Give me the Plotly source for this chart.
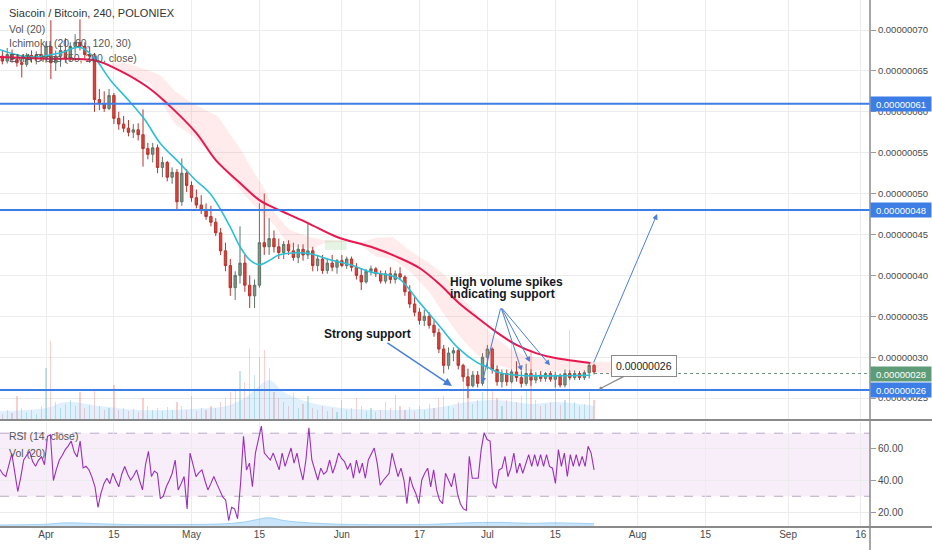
import pandas as pd
import plotly.graph_objects as go

SAT = 1e-8  # prices below are written in satoshi (1e-8 BTC)

# ---------------- daily candles ----------------
dates = pd.date_range("2019-03-22", "2019-07-23", freq="D")

open_sat = [66.5, 66.8, 66.2, 67.0, 66.4, 66.0, 65.8, 66.9, 66.5, 67.0,
            66.6, 68.0, 66.0, 66.8, 67.5, 66.5, 68.0, 68.5, 68.0, 67.0,
            66.8, 61.5, 61.0, 60.4, 62.0, 59.2, 58.5, 58.0, 57.5, 57.8,
            57.2, 55.5, 54.8, 55.6, 53.2, 53.8, 52.0, 52.6, 49.0, 52.5,
            51.0, 49.5, 48.6, 48.0, 47.2, 46.5, 45.2, 43.0, 41.2, 38.5,
            40.0, 41.5, 38.8, 37.5, 38.8, 44.0, 43.5, 44.5, 43.5, 42.8,
            43.8, 43.0, 42.2, 43.2, 42.5, 43.0, 41.2, 42.0, 40.6, 41.5, 41.0,
            41.8, 41.2, 42.0, 41.0, 40.0, 39.2, 40.5, 40.8, 40.2, 39.3,
            40.2, 39.5, 40.2, 39.8, 38.0, 36.5, 35.5, 34.5, 35.0, 33.9,
            33.0, 31.0, 29.0, 30.5, 30.8, 29.0, 27.6, 26.5, 27.8, 26.8,
            30.0, 31.0, 28.5, 27.0, 28.0, 27.0, 28.2, 27.5, 26.8, 28.0,
            27.2, 27.8, 27.4, 28.0, 27.3, 27.8, 26.6, 28.0, 27.5, 28.0,
            27.5, 28.1, 29.0]
high_sat = [67.5, 67.5, 67.8, 67.6, 67.0, 66.8, 67.2, 67.5, 67.4, 68.0,
            68.5, 71.2, 67.5, 68.2, 69.0, 68.5, 69.5, 71.3, 68.5, 68.0,
            67.2, 62.8, 62.5, 62.8, 62.3, 60.0, 59.5, 59.0, 58.5, 58.6,
            60.3, 56.2, 56.2, 56.0, 54.5, 54.0, 53.2, 53.0, 54.3, 53.0,
            51.5, 50.5, 49.8, 48.8, 48.5, 47.0, 45.8, 44.0, 42.0, 40.5,
            46.0, 42.5, 40.0, 39.5, 48.8, 50.0, 47.0, 45.5, 44.5, 44.2,
            44.3, 44.0, 43.8, 43.8, 46.4, 43.5, 42.5, 42.5, 42.0, 42.5, 42.0,
            42.5, 42.3, 42.3, 41.5, 40.8, 40.8, 41.2, 41.0, 40.6, 40.6,
            41.0, 40.6, 41.0, 40.0, 38.8, 37.5, 36.0, 35.8, 35.5, 34.5,
            33.5, 31.5, 31.2, 31.2, 31.0, 29.2, 28.6, 28.3, 28.3, 30.5,
            31.5, 31.2, 29.0, 28.5, 28.5, 28.5, 29.5, 28.3, 29.2, 28.5,
            28.2, 28.3, 28.2, 28.3, 28.2, 28.0, 28.5, 28.4, 28.4, 28.3,
            28.4, 29.3, 29.2]
low_sat = [65.5, 65.8, 65.9, 66.0, 65.5, 64.2, 65.5, 66.0, 65.8, 66.2,
           66.0, 64.0, 65.0, 65.5, 66.0, 66.2, 67.0, 67.5, 66.5, 66.0,
           60.0, 60.2, 60.0, 60.2, 58.5, 57.8, 57.5, 57.0, 56.8, 56.5,
           53.3, 54.2, 53.8, 52.5, 52.0, 51.5, 51.2, 48.0, 48.5, 50.2,
           49.0, 48.2, 47.5, 46.8, 46.0, 44.8, 42.5, 40.5, 37.5, 37.0,
           39.0, 38.0, 36.0, 36.0, 38.5, 42.5, 42.5, 42.8, 42.0, 42.0,
           42.5, 41.8, 41.5, 41.8, 42.0, 40.5, 40.5, 40.2, 40.2, 40.5, 40.2,
           41.0, 40.8, 40.5, 39.5, 38.2, 39.0, 40.0, 39.8, 39.0, 39.0,
           39.0, 39.0, 39.5, 37.5, 36.0, 35.0, 34.0, 33.8, 33.5, 32.5,
           30.5, 28.0, 28.5, 29.5, 28.5, 27.0, 25.0, 26.3, 26.3, 26.5,
           28.5, 28.0, 26.5, 26.3, 26.5, 26.8, 27.0, 26.3, 26.5, 26.5,
           26.8, 27.0, 27.0, 27.0, 26.3, 26.3, 26.3, 27.2, 27.2, 27.2,
           27.2, 27.4, 27.9]
close_sat = [66.8, 66.2, 67.0, 66.4, 66.0, 65.8, 66.9, 66.5, 67.0, 66.6,
             68.0, 66.0, 66.8, 67.5, 66.5, 68.0, 68.5, 68.0, 67.0, 66.8,
             61.5, 61.0, 60.4, 62.0, 59.2, 58.5, 58.0, 57.5, 57.8, 57.2,
             55.5, 54.8, 55.6, 53.2, 53.8, 52.0, 52.6, 49.0, 52.5, 51.0,
             49.5, 48.6, 48.0, 47.2, 46.5, 45.2, 43.0, 41.2, 38.5, 40.0,
             41.5, 38.8, 37.5, 38.8, 44.0, 43.5, 44.5, 43.5, 42.8, 43.8,
             43.0, 42.2, 43.2, 42.5, 43.0, 41.2, 42.0, 40.6, 41.5, 41.0, 41.8,
             41.2, 42.0, 41.0, 40.0, 39.2, 40.5, 40.8, 40.2, 39.3, 40.2,
             39.5, 40.2, 39.8, 38.0, 36.5, 35.5, 34.5, 35.0, 33.9, 33.0,
             31.0, 29.0, 30.5, 30.8, 29.0, 27.6, 26.5, 27.8, 26.8, 30.0,
             31.0, 28.5, 27.0, 28.0, 27.0, 28.2, 27.5, 26.8, 28.0, 27.2,
             27.8, 27.4, 28.0, 27.3, 27.8, 26.6, 28.0, 27.5, 28.0, 27.5,
             28.1, 29.0, 28.2]

# daily volume (arbitrary units)
volume = [8, 6, 10, 7, 24, 12, 8, 10, 6, 14,
          52, 79, 18, 12, 16, 20, 14, 28, 12, 15,
          30, 14, 10, 12, 35, 10, 12, 9, 11, 8,
          22, 14, 10, 12, 9, 13, 10, 18, 14, 10,
          24, 9, 12, 10, 14, 12, 18, 22, 28, 30,
          49, 38, 71, 45, 63, 70, 52, 28, 22, 18,
          14, 27, 12, 16, 24, 12, 10, 14, 9, 12, 8,
          20, 10, 12, 22, 14, 9, 12, 8, 10, 18,
          12, 25, 14, 10, 13, 9, 14, 10, 16, 12,
          22, 24, 14, 12, 18, 45, 30, 16, 20, 28,
          75, 30, 22, 14, 20, 77, 18, 24, 30, 70,
          20, 14, 16, 18, 40, 15, 20, 90, 18, 14,
          16, 28, 20]

vol_ma_dates = ["2019-03-22", "2019-04-01", "2019-04-05", "2019-04-12", "2019-04-20",
                "2019-05-01", "2019-05-08", "2019-05-12", "2019-05-14", "2019-05-17",
                "2019-05-20", "2019-05-25", "2019-06-01", "2019-06-10", "2019-06-20",
                "2019-06-27", "2019-07-03", "2019-07-10", "2019-07-15", "2019-07-23"]
vol_ma = [9, 12, 18, 14, 10, 11, 14, 22, 30, 40, 28, 18, 12, 10, 12, 18, 20, 16, 18, 14]

# ---------------- EMA cross lines ----------------
ema200_dates = ["2019-03-22 12:00", "2019-04-01", "2019-04-11", "2019-04-16", "2019-04-22",
                "2019-04-26", "2019-05-02", "2019-05-06", "2019-05-11", "2019-05-15",
                "2019-05-19", "2019-05-25", "2019-05-31", "2019-06-07", "2019-06-13",
                "2019-06-17", "2019-06-21", "2019-06-25", "2019-06-29", "2019-07-03",
                "2019-07-07", "2019-07-11", "2019-07-15", "2019-07-22 06:00"]
ema200_sat = [66.7, 66.5, 66.3, 65.1, 63.0, 61.0, 57.4, 54.1, 51.3, 49.2,
              48.0, 46.4, 44.7, 43.5, 42.1, 40.9, 39.0, 36.7, 34.8, 33.0,
              31.5, 30.5, 29.9, 29.3]

ema50_dates = ["2019-03-22 12:00", "2019-03-28 16:00", "2019-04-03 22:00", "2019-04-08",
               "2019-04-11", "2019-04-14 06:00", "2019-04-18 08:00", "2019-04-21 10:00",
               "2019-04-24 12:00", "2019-04-28 14:00", "2019-05-01 18:00", "2019-05-04 20:00",
               "2019-05-08 22:00", "2019-05-11", "2019-05-13", "2019-05-15", "2019-05-17 06:00",
               "2019-05-19", "2019-05-25", "2019-05-29 14:00", "2019-06-02 18:00", "2019-06-07",
               "2019-06-11", "2019-06-13", "2019-06-17", "2019-06-21", "2019-06-25",
               "2019-06-29", "2019-07-01", "2019-07-03", "2019-07-07", "2019-07-22 06:00"]
ema50_sat = [67.6, 66.7, 67.2, 67.9, 66.6, 63.9, 61.2, 59.0, 56.2, 53.7, 51.7, 50.0,
             46.0, 43.5, 41.9, 41.3, 41.9, 42.5, 42.7, 41.9, 41.3, 40.4, 40.0, 39.5,
             36.7, 33.9, 31.1, 29.3, 28.8, 28.2, 27.8, 27.8]

# ---------------- Ichimoku cloud ----------------
cloud_dates = ["2019-04-14 14:00", "2019-04-17 08:00", "2019-04-22 10:00", "2019-04-24 12:00",
               "2019-04-27 14:00", "2019-05-01 08:00", "2019-05-06 08:00", "2019-05-11",
               "2019-05-14", "2019-05-16 14:00", "2019-05-18 06:00", "2019-05-21 08:00",
               "2019-05-26", "2019-05-28 12:00", "2019-06-02", "2019-06-04 16:00",
               "2019-06-08", "2019-06-11 12:00", "2019-06-15", "2019-06-19",
               "2019-06-22 08:00", "2019-06-25 10:00", "2019-06-28 12:00", "2019-07-01 12:00",
               "2019-07-05 16:00", "2019-07-09 20:00", "2019-07-16", "2019-07-22 06:00",
               "2019-07-26 16:00"]
cloud_top_sat = [66.0, 66.0, 65.0, 64.5, 62.5, 61.0, 59.5, 55.5, 52.5, 50.0, 47.5, 45.5,
                 44.6, 44.3, 44.2, 44.0, 44.6, 44.7, 43.0, 41.5, 40.0, 37.4, 35.5, 33.0,
                 31.0, 30.0, 29.8, 29.5, 29.4]
cloud_bot_sat = [65.5, 64.5, 63.5, 61.5, 58.5, 57.0, 54.0, 50.5, 48.5, 47.0, 46.0, 43.5,
                 43.3, 44.0, 44.1, 43.8, 42.3, 42.0, 40.5, 38.0, 35.0, 32.5, 30.5, 29.3,
                 28.6, 28.3, 28.2, 28.1, 28.1]
green_dates = ["2019-05-28 12:00", "2019-06-02"]
green_top_sat = [44.3, 44.3]
green_bot_sat = [43.1, 43.1]

# ---------------- RSI (14), one reading every 14.7 h ----------------
rsi_start = "2019-03-22 12:00"
rsi_step_minutes = 882
rsi = [47, 44, 42.5, 50, 57, 45, 33, 42, 53, 56, 58.5, 52, 49, 53, 55, 50, 68, 69, 40, 47,
       53, 56, 59.6, 62, 65, 58, 55, 65, 48, 49, 46.7, 42, 36, 23, 31.8, 38, 41.4, 38, 44.6, 40,
       36, 44, 48.9, 44, 40.3, 43, 46.7, 40, 34, 50, 58.5, 42.5, 46, 44.6, 28.5, 30, 36, 40, 44.6, 53,
       34, 38, 42.5, 22, 57.4, 50, 42.5, 45, 46.7, 40, 34, 38, 42.5, 38, 34, 29.6, 27.5, 14.6, 23, 22,
       15.7, 38, 68, 46.7, 51, 36, 57.4, 65, 74.5, 57.4, 55.3, 53, 57.4, 52, 46.7, 57.4, 48.9, 55, 60.6, 51,
       57.4, 48, 40.3, 53, 73.5, 53, 46.7, 40.3, 47.8, 44, 45.7, 53, 44.6, 50, 57.4, 54, 52, 47, 51, 41.4,
       53, 44.6, 51, 41.4, 53, 57, 60.6, 51, 37, 40, 42.5, 44.6, 57.4, 50, 42.5, 47.8, 40.3, 25.3, 42.5, 36,
       31.8, 25.3, 40.3, 44.6, 47.8, 36, 46.7, 34, 27.5, 25.3, 44.6, 40.3, 36, 44.6, 31.8, 25.3, 22, 21, 55.3, 41.4,
       41.4, 41.4, 59.6, 70.3, 66, 65, 38.2, 35, 46.7, 47.8, 55.3, 42.5, 47.8, 57.4, 44.6, 51, 44.6, 51, 56.4, 48.9,
       56.4, 48.9, 56.4, 48.9, 56.4, 48.9, 47.8, 38.2, 59.6, 48.9, 57.4, 42.5, 56.4, 48.9, 56.4, 48.9, 55.3, 48.9, 61.7, 57.4,
       46.7]

# ---------------- drawings ----------------
hlevels_sat = [61, 48, 26]
last_price_sat = 28
price_ticks_sat = [25, 30, 35, 40, 45, 50, 55, 60, 65, 70]
rsi_ticks = [20, 40, 60]
date_ticks = ["2019-04-01", "2019-04-15", "2019-05-01", "2019-05-15", "2019-06-01", "2019-06-17",
              "2019-07-01", "2019-07-15", "2019-08-01", "2019-08-15", "2019-09-01", "2019-09-16"]
date_tick_text = ["Apr", "15", "May", "15", "Jun", "17", "Jul", "15", "Aug", "15", "Sep", "16"]

X_RANGE = ["2019-03-22 12:20", "2019-09-17 21:30"]
XR = 870 / 932
MAIN_BOT = 1 - 420 / 550
RSI_TOP = 1 - 422 / 550
RSI_BOT = 1 - 527 / 550
FONT = "Liberation Sans"
BLUE = "#3d7ee6"


def sat(a):
    return [v * SAT for v in a]


fig = go.Figure()

# volume (base axis of main pane)
up = [c >= o for o, c in zip(open_sat, close_sat)]
fig.add_trace(go.Bar(x=dates, y=volume, yaxis="y", xaxis="x",
                     marker=dict(color=["rgba(38,166,154,0.28)" if u else "rgba(239,83,80,0.28)" for u in up],
                                 line=dict(width=0)),
                     width=0.25 * 86400000, hoverinfo="skip"))
fig.add_trace(go.Scatter(x=vol_ma_dates, y=vol_ma, yaxis="y", xaxis="x", mode="lines",
                         line=dict(width=0, color="rgba(100,181,246,0.3)", shape="spline"),
                         fill="tozeroy", fillcolor="rgba(100,181,246,0.2)", hoverinfo="skip"))

# ichimoku cloud
fig.add_trace(go.Scatter(x=cloud_dates, y=sat(cloud_bot_sat), yaxis="y2", xaxis="x", mode="lines",
                         line=dict(width=0), hoverinfo="skip"))
fig.add_trace(go.Scatter(x=cloud_dates, y=sat(cloud_top_sat), yaxis="y2", xaxis="x", mode="lines",
                         line=dict(width=0), fill="tonexty", fillcolor="rgba(255,120,120,0.15)",
                         hoverinfo="skip"))
fig.add_trace(go.Scatter(x=green_dates, y=sat(green_bot_sat), yaxis="y2", xaxis="x", mode="lines",
                         line=dict(width=0), hoverinfo="skip"))
fig.add_trace(go.Scatter(x=green_dates, y=sat(green_top_sat), yaxis="y2", xaxis="x", mode="lines",
                         line=dict(width=0), fill="tonexty", fillcolor="rgba(76,175,80,0.14)",
                         hoverinfo="skip"))

# EMA lines
fig.add_trace(go.Scatter(x=ema50_dates, y=sat(ema50_sat), yaxis="y2", xaxis="x", mode="lines",
                         line=dict(color="#2cc0d6", width=1.6, shape="spline"), hoverinfo="skip"))
fig.add_trace(go.Scatter(x=ema200_dates, y=sat(ema200_sat), yaxis="y2", xaxis="x", mode="lines",
                         line=dict(color="#e8174f", width=2, shape="spline"), hoverinfo="skip"))

# candles
fig.add_trace(go.Candlestick(x=dates, open=sat(open_sat), high=sat(high_sat), low=sat(low_sat),
                             close=sat(close_sat), yaxis="y2", xaxis="x",
                             increasing=dict(line=dict(color="#5c7566", width=1), fillcolor="#7d9687"),
                             decreasing=dict(line=dict(color="#b8322c", width=1), fillcolor="#d8463e"),
                             whiskerwidth=0, hoverinfo="skip"))

# RSI pane volume + RSI
rsi_x = pd.date_range(rsi_start, periods=len(rsi), freq=f"{rsi_step_minutes}min")
fig.add_trace(go.Scatter(x=vol_ma_dates, y=vol_ma, yaxis="y3", xaxis="x", mode="lines",
                         line=dict(width=0.8, color="rgba(90,170,230,0.6)", shape="spline"),
                         fill="tozeroy", fillcolor="rgba(100,181,246,0.35)", hoverinfo="skip"))
fig.add_trace(go.Scatter(x=rsi_x, y=rsi, yaxis="y4", xaxis="x", mode="lines",
                         line=dict(color="#9a2fb8", width=1.1), hoverinfo="skip"))

shapes = []
# horizontal support / resistance lines
for lv in hlevels_sat:
    shapes.append(dict(type="line", xref="paper", x0=0, x1=XR, yref="y2", y0=lv * SAT, y1=lv * SAT,
                       line=dict(color=BLUE, width=2)))
# last price dotted line
shapes.append(dict(type="line", xref="x", x0=dates[-1], x1=X_RANGE[1], yref="y2",
                   y0=last_price_sat * SAT, y1=last_price_sat * SAT,
                   line=dict(color="#6d8f7a", width=1, dash="dot")))
# RSI band
shapes.append(dict(type="rect", xref="paper", x0=0, x1=XR, yref="y4", y0=30, y1=70,
                   fillcolor="rgba(156,39,176,0.08)", line=dict(width=0), layer="below"))
for lv in (30, 70):
    shapes.append(dict(type="line", xref="paper", x0=0, x1=XR, yref="y4", y0=lv, y1=lv,
                       line=dict(color="#b9a9c4", width=1, dash="dash"), layer="below"))
# pane separators and price scale border
shapes.append(dict(type="line", xref="paper", x0=0, x1=1, yref="paper", y0=MAIN_BOT, y1=MAIN_BOT,
                   line=dict(color="#8a8a8a", width=2)))
shapes.append(dict(type="line", xref="paper", x0=0, x1=1, yref="paper", y0=RSI_BOT, y1=RSI_BOT,
                   line=dict(color="#8a8a8a", width=2)))
shapes.append(dict(type="line", xref="paper", x0=XR, x1=XR, yref="paper", y0=0, y1=1,
                   line=dict(color="#8a8a8a", width=1.5)))

ann = []


def legend_text(txt, ypx, size=11, color="#555", bold=False):
    ann.append(dict(xref="paper", yref="paper", x=7 / 932, y=1 - ypx / 550, xanchor="left",
                    yanchor="middle", showarrow=False,
                    text=f"<b>{txt}</b>" if bold else txt,
                    font=dict(family=FONT, size=size, color=color)))


legend_text("Siacoin / Bitcoin, 240, POLONIEX", 13, 11, "#333333")
legend_text("Vol (20)", 29, 10.5)
legend_text("Ichimoku (20, 60, 120, 30)", 43, 10.5)
legend_text("EMA Cross (50, 200, close)", 58, 10.5)
legend_text("RSI (14, close)", 436, 10.5)
legend_text("Vol (20)", 453, 10.5)

# price labels on the scale
for lv, col in [(61, BLUE), (48, BLUE), (26, BLUE), (last_price_sat, "#5e9c78")]:
    ann.append(dict(xref="paper", yref="y2", x=XR, y=lv * SAT, xanchor="left", yanchor="middle",
                    showarrow=False, text=f"{lv * SAT:.8f}", bgcolor=col, width=58, height=12,
                    borderpad=1, align="center",
                    font=dict(family=FONT, size=9.5, color="white")))

# text drawings
TXT = dict(family=FONT, size=12, color="#131722")
ann.append(dict(xref="x", yref="y2", x="2019-05-27 22:00", y=32.8 * SAT, xanchor="left",
                yanchor="middle", showarrow=False, text="<b>Strong support</b>", font=TXT))
ann.append(dict(xref="x", yref="y2", x="2019-06-22 22:00", y=39.2 * SAT, xanchor="left",
                yanchor="middle", showarrow=False, text="<b>High volume spikes</b>", font=TXT))
ann.append(dict(xref="x", yref="y2", x="2019-06-22 22:00", y=37.7 * SAT, xanchor="left",
                yanchor="middle", showarrow=False, text="<b>indicating support</b>", font=TXT))

# arrows: (head date, head price, tail date, tail price, width)
arrows = [("2019-06-23 17:00", 26.48, "2019-06-10 02:00", 31.86, 1.5),
          ("2019-06-29 22:00", 26.85, "2019-07-03 19:00", 36.14, 1),
          ("2019-07-08 02:00", 28.3, "2019-07-03 19:00", 36.14, 1),
          ("2019-07-09 19:00", 29.4, "2019-07-03 19:00", 36.14, 1),
          ("2019-07-13 22:00", 29.0, "2019-07-03 19:00", 36.14, 1),
          ("2019-08-05 00:00", 47.5, "2019-07-22 19:00", 29.17, 1)]
for hx, hy, tx, ty, w in arrows:
    ann.append(dict(xref="x", yref="y2", x=hx, y=hy * SAT, axref="x", ayref="y2", ax=tx, ay=ty * SAT,
                    text="", showarrow=True, arrowhead=2, arrowsize=1.1, arrowwidth=w,
                    arrowcolor="#4a7fd8"))

# callout
ann.append(dict(xref="x", yref="y2", x="2019-07-24 10:00", y=26.2 * SAT, axref="x", ayref="y2",
                ax="2019-08-02 08:00", ay=28.94 * SAT, text="0.00000026", showarrow=True,
                arrowhead=6, arrowsize=0.6, arrowwidth=1.2, arrowcolor="#8a8a8a",
                bgcolor="white", bordercolor="#8a8a8a", borderwidth=1, borderpad=4,
                font=dict(family=FONT, size=10.5, color="#222")))

grid = "#ececec"
fig.update_layout(
    width=932, height=550, margin=dict(l=0, r=0, t=0, b=0),
    paper_bgcolor="white", plot_bgcolor="white", showlegend=False,
    shapes=shapes, annotations=ann, bargap=0, hovermode=False,
    xaxis=dict(domain=[0, XR], anchor="y3", range=X_RANGE, type="date",
               tickvals=date_ticks, ticktext=date_tick_text, showgrid=True, gridcolor=grid,
               gridwidth=1, zeroline=False, showline=False, ticks="",
               rangeslider=dict(visible=False), automargin=False,
               tickfont=dict(family=FONT, size=10, color="#4a4a4a")),
    yaxis=dict(domain=[MAIN_BOT, 1], range=[0, 420], visible=False, fixedrange=True),
    yaxis2=dict(overlaying="y", anchor="x", side="right",
                range=[22.32 * SAT, 73.67 * SAT],
                tickvals=sat(price_ticks_sat), ticktext=[f"{v * SAT:.8f}" for v in price_ticks_sat],
                showgrid=True, gridcolor=grid, zeroline=False, showline=False,
                ticks="outside", ticklen=5, tickcolor="#999", automargin=False,
                tickfont=dict(family=FONT, size=9.5, color="#4a4a4a")),
    yaxis3=dict(domain=[RSI_BOT, RSI_TOP], range=[0, 450], visible=False),
    yaxis4=dict(overlaying="y3", anchor="x", side="right", range=[10.5, 77.1],
                tickvals=rsi_ticks, ticktext=[f"{v:.2f}" for v in rsi_ticks],
                showgrid=True, gridcolor=grid, zeroline=False, showline=False,
                ticks="outside", ticklen=5, tickcolor="#999", automargin=False,
                tickfont=dict(family=FONT, size=10, color="#4a4a4a")),
)

fig.write_html("out.html", config={"displayModeBar": False},
               post_script="document.body.style.margin='0';document.body.style.overflow='hidden';")
